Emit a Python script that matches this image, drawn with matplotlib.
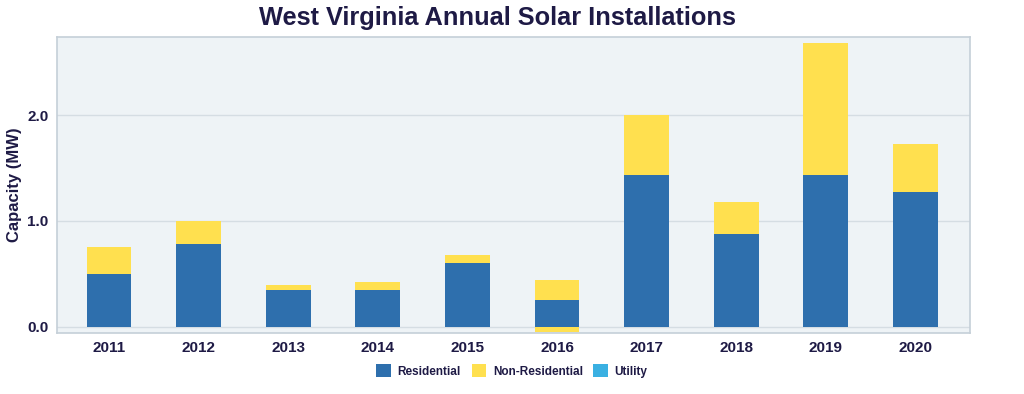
import numpy as np
import matplotlib.pyplot as plt

years = ['2011', '2012', '2013', '2014', '2015', '2016', '2017', '2018', '2019', '2020']
residential = [0.50, 0.78, 0.35, 0.35, 0.60, 0.255, 1.43, 0.88, 1.43, 1.27]
non_residential = [0.255, 0.22, 0.05, 0.075, 0.08, 0.185, 0.57, 0.30, 1.25, 0.46]
non_residential_neg = [0, 0, 0, 0, 0, -0.05, 0, 0, 0, 0]
utility = [0, 0, 0, 0, 0, 0, 0, 0, 0, 0]

c_res = '#2e6fad'
c_non = '#ffe04f'
c_util = '#3ab0e2'
text_c = '#1e1a45'

plt.rcParams['font.family'] = ['Liberation Sans', 'DejaVu Sans']

fig = plt.figure(figsize=(10.24, 3.94), dpi=100)
ax = fig.add_axes([57 / 1024, 1 - 333 / 394, 913 / 1024, 296 / 394])
ax.set_facecolor('#eef3f6')

x = np.arange(len(years))
res = np.array(residential)
non = np.array(non_residential)
ax.bar(x, res, width=0.5, color=c_res, label='Residential', zorder=3)
ax.bar(x, non, width=0.5, bottom=res, color=c_non, label='Non-Residential', zorder=3)
ax.bar(x, non_residential_neg, width=0.5, color=c_non, zorder=3)
ax.bar(x, utility, width=0.5, bottom=res + non, color=c_util, label='Utility', zorder=3)

ax.set_xlim(-0.58, 9.61)
ax.set_ylim(-0.057, 2.736)
ax.set_yticks([0, 1, 2])
ax.set_yticklabels(['0.0', '1.0', '2.0'])
ax.set_xticks(x)
ax.set_xticklabels(years)
ax.grid(axis='y', color='#d5dde3', linewidth=1, zorder=0)
ax.tick_params(length=0, labelsize=11, colors=text_c, pad=6)
for lab in ax.get_xticklabels() + ax.get_yticklabels():
    lab.set_fontweight('bold')
for s in ax.spines.values():
    s.set_color('#c5cfd8')
    s.set_linewidth(1.2)

ax.set_ylabel('Capacity (MW)', fontsize=12, fontweight='bold', color=text_c, labelpad=4)
fig.text(0.486, 0.955, 'West Virginia Annual Solar Installations', fontsize=18.3,
         fontweight='bold', color=text_c, ha='center', va='center')

fig.legend(loc='center', bbox_to_anchor=(0.5, 1 - 371 / 394), ncol=3, frameon=False,
           prop={'weight': 'bold', 'size': 8.5}, handlelength=1.2, handleheight=1.2,
           columnspacing=0.9, handletextpad=0.6, labelcolor=text_c)

fig.savefig('out.png', dpi=100)
